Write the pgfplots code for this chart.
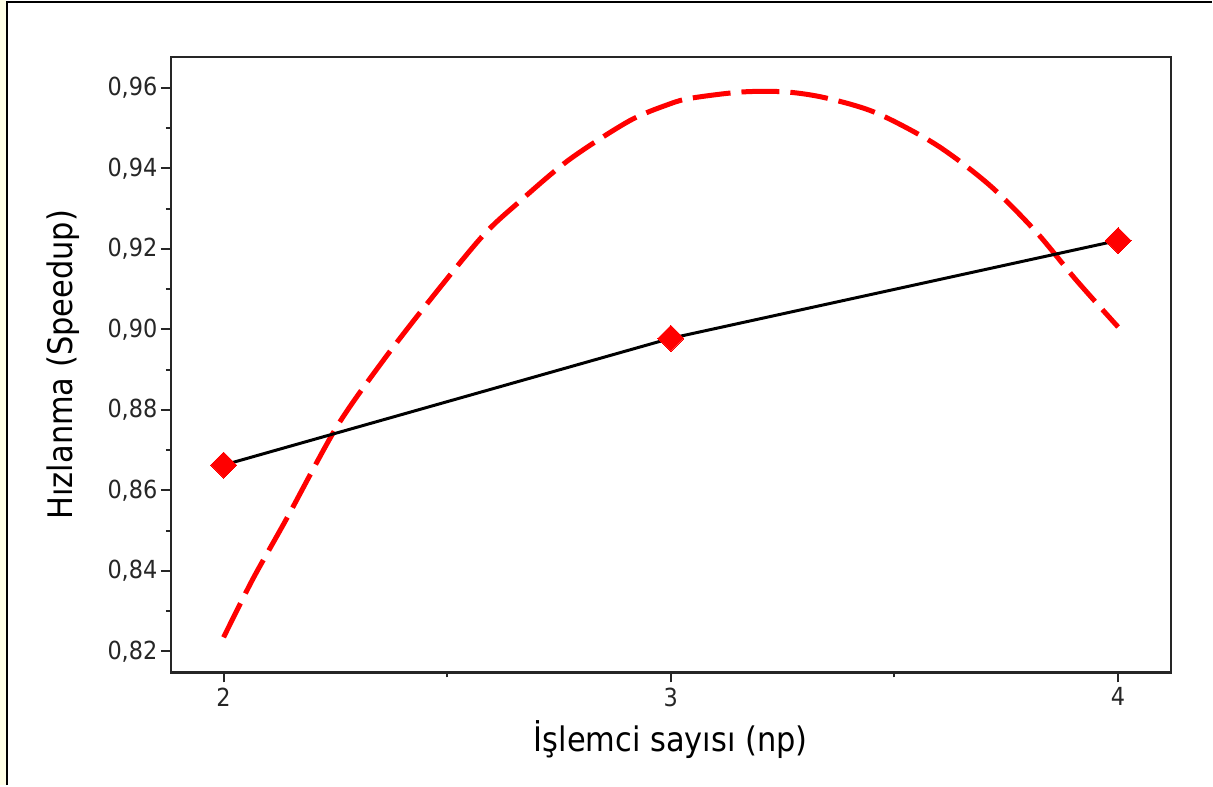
\documentclass[border=0pt]{standalone}
\usepackage{pgfplots}
\pgfplotsset{compat=1.18}
\usepackage{fontspec}
\setmainfont{DejaVu Sans Condensed}
\definecolor{frameyellow}{HTML}{FFFFE6}
\begin{document}
\begin{tikzpicture}[x=1bp,y=1bp]
\fill[white] (0,0) rectangle (1213,786);
\fill[frameyellow] (0,0) rectangle (6,786);
\draw[line width=2.4bp] (7,0) -- (7,784) -- (1213,784);
\begin{axis}[
  at={(171bp,113bp)}, anchor=south west,
  width=1001bp, height=616bp, scale only axis,
  xmin=1.882, xmax=4.118, ymin=0.8148, ymax=0.9677,
  xtick={2,3,4}, minor xtick={2.5,3.5},
  ytick={0.82,0.84,0.86,0.88,0.90,0.92,0.94,0.96},
  minor ytick={0.83,0.85,0.87,0.89,0.91,0.93,0.95},
  xtick pos=left, ytick pos=left, tick align=outside,
  major tick length=10bp, minor tick length=5bp,
  axis line style={line width=2.4bp, black!85},
  every tick/.style={line width=2bp, black!85},
  /pgf/number format/assume math mode=true,
  yticklabel style={/pgf/number format/.cd, fixed, fixed zerofill, precision=2, use comma},
  ticklabel style={font=\fontsize{25}{29}\selectfont, text=black!85},
  xticklabel style={yshift=-2bp},
  xlabel={İşlemci sayısı (np)},
  ylabel={Hızlanma (Speedup)},
  label style={font=\fontsize{34}{40}\selectfont},
  xlabel style={at={(axis description cs:0.5,-0.109)}, anchor=center},
  ylabel style={at={(axis description cs:-0.108,0.5)}, anchor=center},
  clip=false,
]
\addplot[red, line width=5bp, dash pattern=on 38bp off 11bp, smooth] coordinates {
  (2.000,0.8235) (2.065,0.8379) (2.141,0.8530) (2.253,0.8758) (2.355,0.8920)
  (2.460,0.9071) (2.579,0.9232) (2.661,0.9317) (2.773,0.9422) (2.907,0.9518)
  (2.997,0.9560) (3.048,0.9575) (3.160,0.9590) (3.258,0.9590) (3.347,0.9575)
  (3.459,0.9538) (3.593,0.9459) (3.712,0.9359) (3.817,0.9242) (3.906,0.9123)
  (4.000,0.9006)
};
\addplot[black, line width=3bp, mark=square*, mark size=9.2bp,
  mark options={red, fill=red, line width=0pt, rotate=45, solid}] coordinates {
  (2,0.8663) (3,0.8978) (4,0.9221)
};
\end{axis}
\end{tikzpicture}
\end{document}
